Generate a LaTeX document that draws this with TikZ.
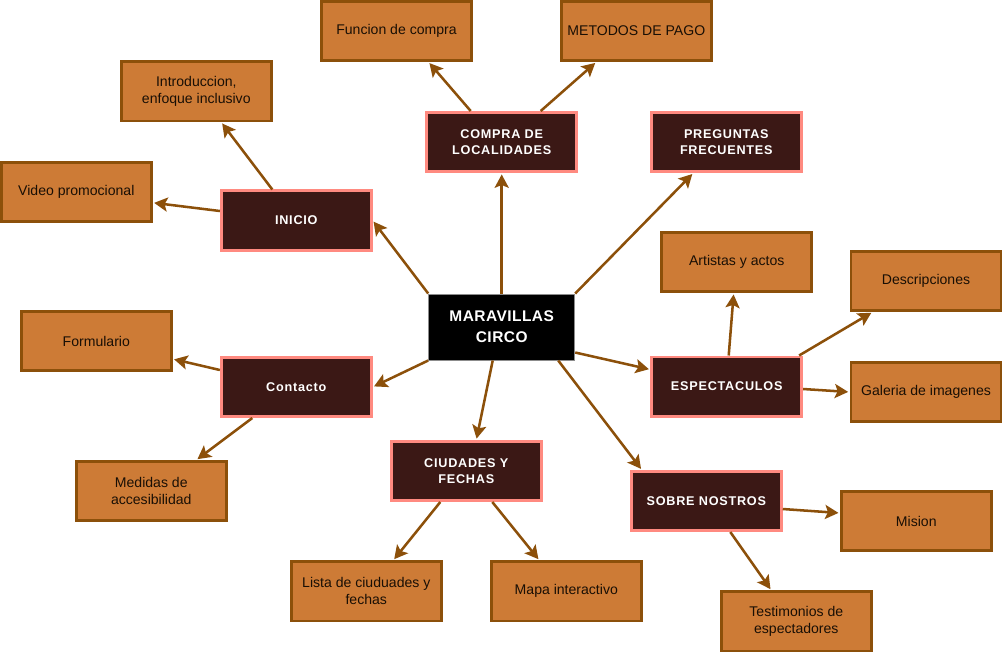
\documentclass[tikz,border=0pt]{standalone}
\usepackage{fontspec}
\setmainfont{Liberation Sans}
\newfontfamily\topicfont[LetterSpace=6]{Liberation Sans}
\newfontfamily\corefont[LetterSpace=3]{Liberation Sans}
\usetikzlibrary{arrows.meta,calc}
\definecolor{leaffill}{RGB}{205,123,54}
\definecolor{leafline}{RGB}{140,80,10}
\definecolor{topicfill}{RGB}{59,24,21}
\definecolor{topicline}{RGB}{255,138,128}
\definecolor{linkbrown}{RGB}{140,80,10}
\definecolor{leaftext}{RGB}{25,15,5}
\tikzset{
  leaf/.style={draw=leafline,fill=leaffill,line width=0.07cm,minimum width=3.75cm,minimum height=1.48cm,
    inner sep=0pt,align=center,text=leaftext,font=\fontsize{10}{11.9}\selectfont},
  topic/.style={draw=topicline,fill=topicfill,line width=0.07cm,minimum width=3.75cm,minimum height=1.48cm,
    inner sep=0pt,align=center,text=white,font=\topicfont\bfseries\fontsize{9}{11.6}\selectfont},
  core/.style={draw=black!45,fill=black,line width=0.025cm,minimum width=3.65cm,minimum height=1.65cm,
    inner sep=0pt,align=center,text=white,font=\corefont\bfseries\fontsize{11}{14.9}\selectfont},
  link/.style={draw=linkbrown,line width=1.8pt,-{Stealth[length=9.5pt,width=10pt,inset=2pt]},shorten >=1pt}
}
\begin{document}
\begin{tikzpicture}[x=0.025cm,y=-0.025cm]
        \useasboundingbox (0,0) rectangle (1003,653);
        % centre
        \node[core] (mc) at (501.7,327) {MARAVILLAS\\CIRCO};
        % main topics
        \node[topic] (inicio) at (296.3,220.5) {INICIO};
        \node[topic] (compra) at (501.7,142) {COMPRA DE\\LOCALIDADES};
        \node[topic] (preguntas) at (726.3,142) {PREGUNTAS\\FRECUENTES};
        \node[topic] (espect) at (726.7,386.5) {ESPECTACULOS};
        \node[topic] (contacto) at (296.3,387) {Contacto};
        \node[topic] (ciudades) at (466.3,471) {CIUDADES Y\\FECHAS};
        \node[topic] (sobre) at (706.3,501) {SOBRE NOSTROS};
        % leaves
        \node[leaf] (video) at (76.3,191.7) {Video promocional};
        \node[leaf] (intro) at (196.3,91.3) {Introduccion,\\enfoque inclusivo};
        \node[leaf] (funcion) at (396.5,31) {Funcion de compra};
        \node[leaf] (metodos) at (636.3,31) {METODOS DE PAGO};
        \node[leaf] (artistas) at (736.7,262) {Artistas y actos};
        \node[leaf] (descr) at (926,281) {Descripciones};
        \node[leaf] (galeria) at (926,392) {Galeria de imagenes};
        \node[leaf] (formulario) at (96.3,341) {Formulario};
        \node[leaf] (medidas) at (151.3,491) {Medidas de\\accesibilidad};
        \node[leaf] (lista) at (366.3,591.3) {Lista de ciuduades y\\fechas};
        \node[leaf] (mapa) at (566.3,591.3) {Mapa interactivo};
        \node[leaf] (mision) at (916.3,521) {Mision};
        \node[leaf] (testim) at (796.3,621.3) {Testimonios de\\espectadores};
        % links from the centre
        \draw[link] (mc.north west) -- (inicio.east);
        \draw[link] (mc.north) -- (compra.south);
        \draw[link] (mc.north east) -- ($(preguntas.south)+(-33,0)$);
        \draw[link] ($(mc.south east)+(0,-8)$) -- ($(espect.west)+(0,-17)$);
        \draw[link] ($(mc.south east)+(-17,0)$) -- ($(sobre.north west)+(12,0)$);
        \draw[link] ($(mc.south)+(-9,0)$) -- ($(ciudades.north)+(10,0)$);
        \draw[link] (mc.south west) -- (contacto.east);
        % links to the leaves
        \draw[link] ($(inicio.west)+(0,-9.5)$) -- ($(video.east)+(0,11)$);
        \draw[link] ($(inicio.north)+(-24,0)$) -- ($(intro.south)+(25,0)$);
        \draw[link] ($(compra.north)+(-31,0)$) -- ($(funcion.south)+(32,0)$);
        \draw[link] ($(compra.north)+(39,0)$) -- ($(metodos.south)+(-40,0)$);
        \draw[link] ($(espect.north)+(2,0)$) -- ($(artistas.south)+(-3,0)$);
        \draw[link] ($(espect.north east)+(-4,0)$) -- ($(descr.south west)+(23,0)$);
        \draw[link] ($(espect.east)+(0,2.5)$) -- (galeria.west);
        \draw[link] ($(contacto.west)+(0,-17)$) -- ($(formulario.east)+(0,18)$);
        \draw[link] ($(contacto.south)+(-44,0)$) -- ($(medidas.north)+(45,0)$);
        \draw[link] ($(ciudades.south)+(-26,0)$) -- ($(lista.north)+(27,0)$);
        \draw[link] ($(ciudades.south)+(26,0)$) -- ($(mapa.north)+(-27,0)$);
        \draw[link] ($(sobre.east)+(0,8)$) -- ($(mision.west)+(0,-8)$);
        \draw[link] ($(sobre.south)+(24,0)$) -- ($(testim.north)+(-25,0)$);
    \end{tikzpicture}
\end{document}
